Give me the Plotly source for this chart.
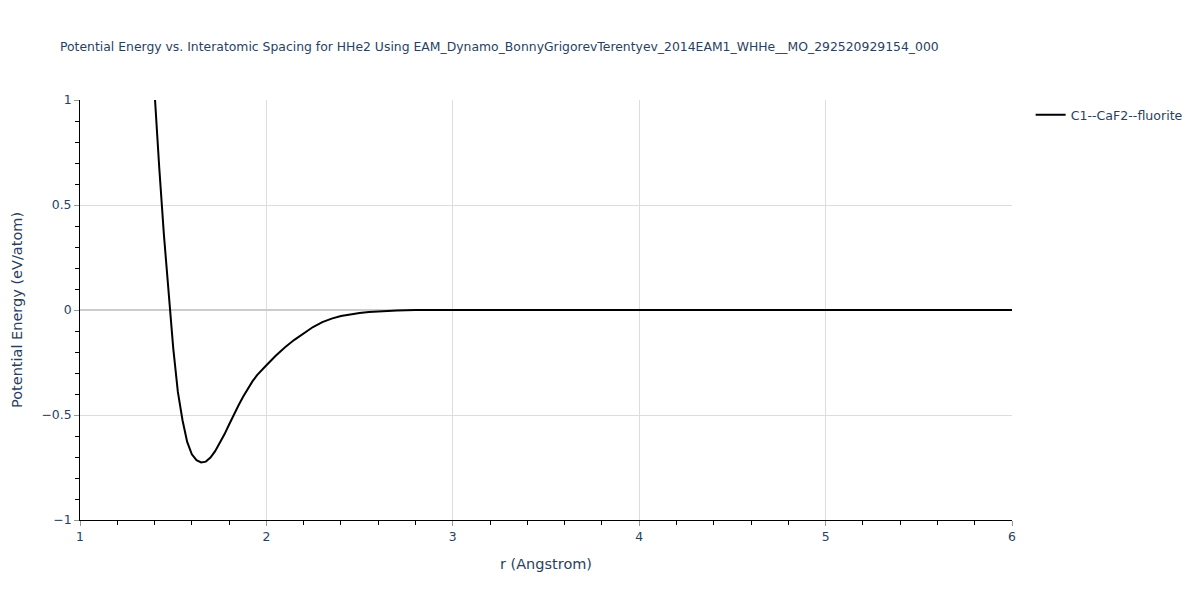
import plotly.graph_objects as go

r_values = [1.35, 1.40, 1.425, 1.45, 1.475, 1.50, 1.525, 1.55, 1.575, 1.60, 1.625, 1.65, 1.675,
            1.70, 1.725, 1.75, 1.775, 1.80, 1.825, 1.85, 1.875, 1.90, 1.925, 1.95, 1.975,
            2.00, 2.05, 2.10, 2.15, 2.20, 2.25, 2.30, 2.35, 2.40, 2.45, 2.50, 2.55, 2.60,
            2.65, 2.70, 2.75, 2.80, 3.00, 3.50, 4.00, 4.50, 5.00, 5.50, 6.00]
energy_values = [1.75, 1.02, 0.68, 0.36, 0.08, -0.18, -0.39, -0.525, -0.628, -0.687, -0.715,
                 -0.726, -0.722, -0.703, -0.672, -0.635, -0.592, -0.545, -0.497, -0.455, -0.413,
                 -0.374, -0.34, -0.31, -0.285, -0.263, -0.218, -0.177, -0.142, -0.11, -0.081,
                 -0.058, -0.041, -0.029, -0.02, -0.014, -0.009, -0.006, -0.004, -0.002, -0.001,
                 0.0, 0.0, 0.0, 0.0, 0.0, 0.0, 0.0, 0.0]
series_name = "C1--CaF2--fluorite"
title_text = ("Potential Energy vs. Interatomic Spacing for HHe2 Using "
              "EAM_Dynamo_BonnyGrigorevTerentyev_2014EAM1_WHHe__MO_292520929154_000")

fig = go.Figure()
fig.add_trace(go.Scatter(x=r_values, y=energy_values, mode="lines", name=series_name,
                         line=dict(color="black", width=2), showlegend=True))

fig.update_layout(
    width=1200, height=600,
    title=dict(text=title_text, x=0.05, y=0.93, xanchor="left",
               font=dict(size=12.4, color="#2a3f5f")),
    plot_bgcolor="white", paper_bgcolor="white",
    font=dict(family="DejaVu Sans, Verdana, sans-serif", color="#2a3f5f", size=12.4),
    legend=dict(font=dict(size=12.6)),
    margin=dict(l=80, r=188, t=100, b=80),
)
fig.update_xaxes(
    title=dict(text="r (Angstrom)", font=dict(size=14.5)),
    range=[1, 6], showline=True, linecolor="black", linewidth=1,
    showgrid=True, gridcolor="#dddddd", zeroline=False,
    ticks="outside", tickcolor="#999999", ticklen=5, dtick=1,
    minor=dict(ticks="outside", ticklen=4, tickcolor="black", dtick=0.2, showgrid=False),
)
fig.update_yaxes(
    title=dict(text="Potential Energy (eV/atom)", font=dict(size=14.5)),
    range=[-1, 1], showline=True, linecolor="black", linewidth=1,
    showgrid=True, gridcolor="#dddddd", zeroline=True, zerolinecolor="#cccccc", zerolinewidth=2,
    ticks="outside", tickcolor="#999999", ticklen=5, dtick=0.5,
    minor=dict(ticks="outside", ticklen=4, tickcolor="black", dtick=0.1, showgrid=False),
)

fig.write_html("out.html", config={"displayModeBar": False},
               post_script="document.body.style.margin='0';")
